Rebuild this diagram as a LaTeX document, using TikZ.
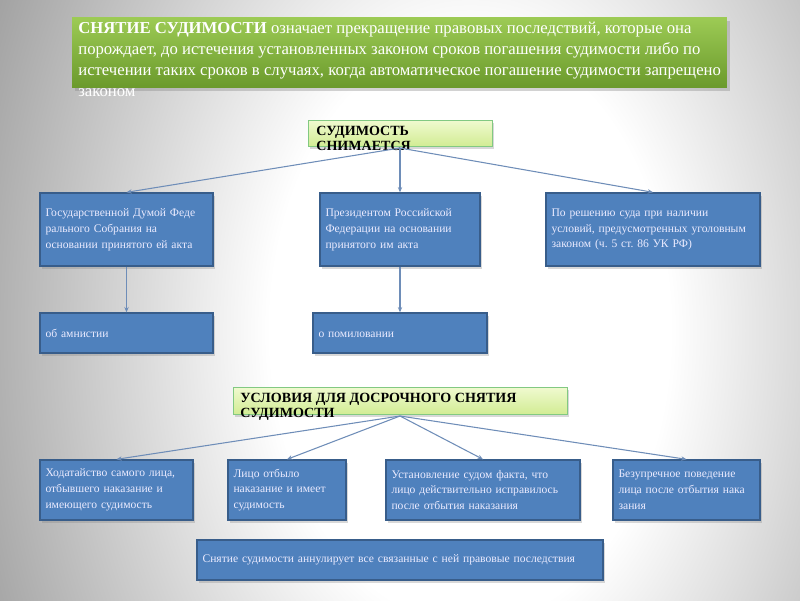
\documentclass[tikz,border=0pt]{standalone}
\usepackage{fontspec}
\setmainfont{Liberation Serif}
\usetikzlibrary{arrows.meta,shadows}
\definecolor{boxblue}{HTML}{4F81BD}
\definecolor{boxline}{HTML}{385D8A}
\definecolor{linkblue}{HTML}{6E8DB8}
\definecolor{greentop}{HTML}{9DCB55}
\definecolor{greenbot}{HTML}{6B9A2C}
\definecolor{limetop}{HTML}{F0FAD0}
\definecolor{limebot}{HTML}{D2EC94}
\pgfdeclareradialshading{backshade}{\pgfpoint{0bp}{0bp}}{color(0bp)=(white); color(10bp)=(white); color(30bp)=(black!45); color(50bp)=(black!55)}
\frenchspacing
\begin{document}
\begin{tikzpicture}[x=0.02cm,y=-0.02cm]
  \tikzset{bluebox/.style={draw=boxline, line width=0.8pt, fill=boxblue, text=white!92!blue, align=left, inner xsep=3pt, inner ysep=3pt, font=\fontsize{6.6}{9}\selectfont, drop shadow={opacity=0.3, shadow xshift=1pt, shadow yshift=-1.5pt}},
    limebox/.style={draw=green!40!gray!70, line width=0.5pt, top color=limetop, bottom color=limebot, inner sep=0pt, drop shadow={opacity=0.3, shadow xshift=1pt, shadow yshift=-1.5pt}},
    capstext/.style={anchor=north west, inner sep=0pt, align=left, font=\fontsize{8}{8.5}\selectfont\bfseries},
    link/.style={draw=linkblue, line width=0.6pt, -{Stealth[length=3pt,width=2.5pt]}}}
  \useasboundingbox (0,0) rectangle (800,600);
  \clip (0,0) rectangle (800,600);
  \shade[shading=backshade] (-30,-400) rectangle (970,1060);

  % header
  \node[draw=none, top color=greentop, bottom color=greenbot, minimum width=13.1cm, minimum height=1.4cm, inner sep=0pt, drop shadow={opacity=0.35, shadow xshift=1.5pt, shadow yshift=-2pt}] at (399.5,52) (t_0) {};
  \node[anchor=north west, inner sep=0pt, align=left, text=white, font=\fontsize{9.5}{11.9}\selectfont] at (78,22) (t_1)
    {\textbf{СНЯТИЕ СУДИМОСТИ} означает прекращение правовых последствий, которые она\\
     порождает, до истечения установленных законом сроков погашения судимости либо по\\
     истечении таких сроков в случаях, когда автоматическое погашение судимости запрещено\\
     законом};

  % first tree
  \node[limebox, minimum width=3.68cm, minimum height=0.52cm] at (400,133) (s_0) {};
  \node[capstext] at (316,126) (s_1) {СУДИМОСТЬ\\СНИМАЕТСЯ};
  \coordinate (s) at (400,148);
  \node[bluebox, minimum width=3.46cm, minimum height=1.46cm, text width=3.24cm] at (126.5,229.5) (b_1)
    {Государственной Думой Феде\\рального Собрания на\\основании принятого ей акта};
  \node[bluebox, minimum width=3.2cm, minimum height=1.46cm, text width=2.98cm] at (400,229.5) (b_2)
    {Президентом Российской\\Федерации на основании\\принятого им акта};
  \node[bluebox, minimum width=4.28cm, minimum height=1.46cm, text width=4.06cm] at (653,229.5) (b_3)
    {По решению суда при наличии\\условий, предусмотренных уголовным\\законом (ч. 5 ст. 86 УК РФ)};
  \node[bluebox, minimum width=3.46cm, minimum height=0.8cm, text width=3.24cm] at (126.5,333) (a_1) {об амнистии};
  \node[bluebox, minimum width=3.48cm, minimum height=0.8cm, text width=3.26cm] at (400,333) (a_2) {о помиловании\vphantom{б}};

  \draw[link] (s) -- (b_1.north);
  \draw[link] (s) -- (b_2.north);
  \draw[link] (s) -- (b_3.north);
  \draw[link] (b_1.south) -- (a_1.north);
  \draw[link] (b_2.south) -- (a_2.north);

  % second tree
  \node[limebox, minimum width=6.68cm, minimum height=0.54cm] at (400,400.5) (u_0) {};
  \node[capstext] at (240,393) (u_1) {УСЛОВИЯ ДЛЯ ДОСРОЧНОГО СНЯТИЯ\\СУДИМОСТИ};
  \coordinate (u) at (400,416);
  \node[bluebox, minimum width=3.06cm, minimum height=1.2cm, text width=2.84cm] at (116.5,490) (c_1)
    {Ходатайство самого лица,\\отбывшего наказание и\\имеющего судимость};
  \node[bluebox, minimum width=2.36cm, minimum height=1.2cm, text width=2.14cm] at (287,490) (c_2)
    {Лицо отбыло\\наказание и имеет\\судимость};
  \node[bluebox, minimum width=3.88cm, minimum height=1.2cm, text width=3.66cm] at (483,490) (c_3)
    {Установление судом факта, что\\лицо действительно исправилось\\после отбытия наказания};
  \node[bluebox, minimum width=2.94cm, minimum height=1.2cm, text width=2.72cm] at (686.5,490) (c_4)
    {Безупречное поведение\\лица после отбытия нака\\зания};
  \node[bluebox, minimum width=8.12cm, minimum height=0.8cm, text width=7.9cm] at (400,560) (z_1)
    {Снятие судимости аннулирует все связанные с ней правовые последствия};

  \draw[link] (u) -- (c_1.north);
  \draw[link] (u) -- (c_2.north);
  \draw[link] (u) -- (c_3.north);
  \draw[link] (u) -- (c_4.north);
\end{tikzpicture}
\end{document}
